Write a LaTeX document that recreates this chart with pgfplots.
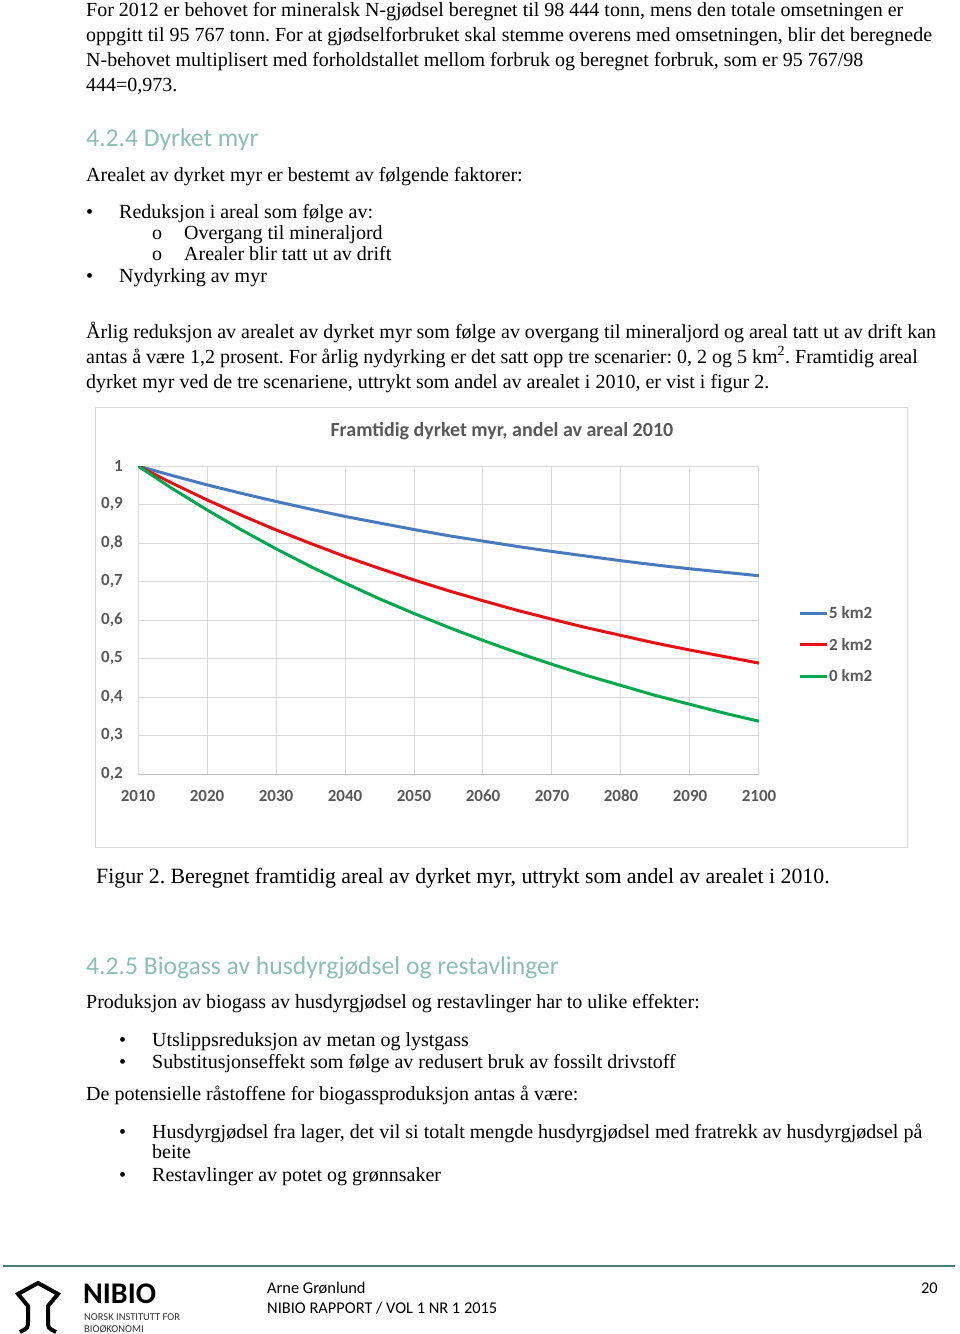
\documentclass[border=0pt]{standalone}
\usepackage{pgfplots}
\pgfplotsset{compat=1.18}
\usepackage{fontspec}
\setmainfont{Liberation Serif}
\newfontfamily\carlito{Carlito}
\definecolor{cblue}{RGB}{74,122,190}
\definecolor{cred}{RGB}{232,16,20}
\definecolor{cgreen}{RGB}{0,168,80}
\definecolor{labgray}{RGB}{89,89,89}
\definecolor{gridgray}{RGB}{217,217,217}
\definecolor{axisgray}{RGB}{191,191,191}
\definecolor{headteal}{RGB}{140,190,180}
\definecolor{footteal}{RGB}{78,127,115}
\newcommand\body{\fontsize{20}{24}\selectfont}
\newcommand\capf{\fontsize{21.8}{26}\selectfont}
\newcommand\head{\carlito\fontsize{25.6}{30}\selectfont\color{headteal}}
\newcommand\foot{\carlito\fontsize{16.4}{19}\selectfont}
\newcommand\chartf{\carlito\bfseries\fontsize{17}{20}\selectfont\color{labgray}}
\frenchspacing
\begin{document}
\begin{tikzpicture}
\useasboundingbox (0pt,0pt) rectangle (960pt,-1334pt);
\fill[white] (0pt,0pt) rectangle (960pt,-1334pt);
\begin{scope}[x=1pt,y=-1pt,every node/.style={inner sep=0pt, anchor=base west}]
\node[font=\body] at (86,16) {For 2012 er behovet for mineralsk N-gjødsel beregnet til 98 444 tonn, mens den totale omsetningen er};
\node[font=\body] at (86,41) {oppgitt til 95 767 tonn. For at gjødselforbruket skal stemme overens med omsetningen, blir det beregnede};
\node[font=\body] at (86,66) {N-behovet multiplisert med forholdstallet mellom forbruk og beregnet forbruk, som er 95 767/98};
\node[font=\body] at (86,91) {444=0,973.};
\node[font=\head] at (86,146) {4.2.4 Dyrket myr};
\node[font=\body] at (86,181) {Arealet av dyrket myr er bestemt av følgende faktorer:};
\node[font=\body] at (86,218) {•};
\node[font=\body] at (119,218) {Reduksjon i areal som følge av:};
\node[font=\body] at (152,239) {o};
\node[font=\body] at (184,239) {Overgang til mineraljord};
\node[font=\body] at (152,260) {o};
\node[font=\body] at (184,260) {Arealer blir tatt ut av drift};
\node[font=\body] at (86,282) {•};
\node[font=\body] at (119,282) {Nydyrking av myr};
\node[font=\body] at (86,338) {Årlig reduksjon av arealet av dyrket myr som følge av overgang til mineraljord og areal tatt ut av drift kan};
\node[font=\body] at (86,363) {antas å være 1,2 prosent. For årlig nydyrking er det satt opp tre scenarier: 0, 2 og 5 km\textsuperscript{2}. Framtidig areal};
\node[font=\body] at (86,388) {dyrket myr ved de tre scenariene, uttrykt som andel av arealet i 2010, er vist i figur 2.};
\draw[gridgray, line width=1pt] (95.5,407.5) rectangle (907.5,847.5);
\node[font=\capf] at (96,883) {Figur 2. Beregnet framtidig areal av dyrket myr, uttrykt som andel av arealet i 2010.};
\node[font=\head] at (86,974) {4.2.5 Biogass av husdyrgjødsel og restavlinger};
\node[font=\body] at (86,1008) {Produksjon av biogass av husdyrgjødsel og restavlinger har to ulike effekter:};
\node[font=\body] at (119,1046) {•};
\node[font=\body] at (152,1046) {Utslippsreduksjon av metan og lystgass};
\node[font=\body] at (119,1068) {•};
\node[font=\body] at (152,1068) {Substitusjonseffekt som følge av redusert bruk av fossilt drivstoff};
\node[font=\body] at (86,1100) {De potensielle råstoffene for biogassproduksjon antas å være:};
\node[font=\body] at (119,1138) {•};
\node[font=\body] at (152,1138) {Husdyrgjødsel fra lager, det vil si totalt mengde husdyrgjødsel med fratrekk av husdyrgjødsel på};
\node[font=\body] at (152,1158) {beite};
\node[font=\body] at (119,1181) {•};
\node[font=\body] at (152,1181) {Restavlinger av potet og grønnsaker};
\draw[footteal, line width=2pt] (3,1266) -- (955,1266);
\draw[black, line width=4pt, line join=miter, line cap=butt] (28,1322) -- (28,1306) -- (18,1294) -- (38,1283) -- (58,1294) -- (48,1306) -- (48,1322);
\draw[black, line width=4pt] (28,1320) .. controls (28,1328) .. (20,1332);
\draw[black, line width=4pt] (48,1320) .. controls (48,1328) .. (56,1332);
\node[font=\carlito\bfseries\fontsize{30}{32}\selectfont] at (83,1303) {NIBIO};
\node[font=\carlito\fontsize{10.5}{12}\selectfont, text=black!80] at (84,1320) {NORSK INSTITUTT FOR};
\node[font=\carlito\fontsize{10.5}{12}\selectfont, text=black!80] at (84,1332) {BIOØKONOMI};
\node[font=\foot] at (267,1293) {Arne Grønlund};
\node[font=\foot] at (267,1313) {NIBIO RAPPORT / VOL 1 NR 1 2015};
\node[font=\foot, anchor=base east] at (938,1293) {20};
\end{scope}
\begin{axis}[
  at={(138pt,-774pt)}, anchor=south west,
  scale only axis, width=621pt, height=308pt,
  xmin=2010, xmax=2100, ymin=0.2, ymax=1,
  xtick={2010,2020,2030,2040,2050,2060,2070,2080,2090,2100},
  xticklabels={2010,2020,2030,2040,2050,2060,2070,2080,2090,2100},
  ytick={0.2,0.3,0.4,0.5,0.6,0.7,0.8,0.9,1},
  yticklabels={{0,2},{0,3},{0,4},{0,5},{0,6},{0,7},{0,8},{0,9},{1}},
  grid=major, major grid style={draw=gridgray, line width=1pt},
  axis line style={draw=gridgray, line width=1pt},
  x axis line style={draw=axisgray},
  axis x line*=bottom, axis y line*=left,
  major tick length=0pt, tick style={draw=none},
  yticklabel style={font=\chartf, inner sep=0pt, anchor=east, xshift=-15pt},
  xticklabel style={font=\chartf, inner sep=0pt, anchor=north, yshift=-16pt},
  every axis title shift=0pt,
  title={Framtidig dyrket myr, andel av areal 2010},
  title style={font=\carlito\bfseries\fontsize{20}{22}\selectfont\color{labgray}, at={(0.586,1.1136)}, anchor=center, yshift=0pt, inner sep=0pt},
  legend style={draw=none, fill=none, at={(1.058,0.419)}, anchor=west, font=\chartf, row sep=16pt, nodes={inner sep=1pt}},
  legend cell align=left,
  legend image code/.code={\draw[#1] (0pt,0pt) -- (27pt,0pt);},
  every axis plot/.append style={line width=3pt, line join=round},
]
\addplot[cblue] coordinates {(2010,1) (2015,0.975) (2020,0.951) (2025,0.929) (2030,0.908) (2035,0.888) (2040,0.869) (2045,0.852) (2050,0.835) (2055,0.819) (2060,0.805) (2065,0.791) (2070,0.778) (2075,0.766) (2080,0.754) (2085,0.743) (2090,0.733) (2095,0.724) (2100,0.715)};
\addlegendentry{5 km2}
\addplot[cred] coordinates {(2010,1) (2015,0.955) (2020,0.912) (2025,0.872) (2030,0.834) (2035,0.799) (2040,0.765) (2045,0.734) (2050,0.704) (2055,0.676) (2060,0.650) (2065,0.625) (2070,0.602) (2075,0.580) (2080,0.560) (2085,0.540) (2090,0.522) (2095,0.505) (2100,0.488)};
\addlegendentry{2 km2}
\addplot[cgreen] coordinates {(2010,1) (2015,0.941) (2020,0.886) (2025,0.834) (2030,0.785) (2035,0.739) (2040,0.696) (2045,0.655) (2050,0.617) (2055,0.581) (2060,0.547) (2065,0.515) (2070,0.485) (2075,0.456) (2080,0.430) (2085,0.404) (2090,0.381) (2095,0.358) (2100,0.337)};
\addlegendentry{0 km2}
\end{axis}
\end{tikzpicture}
\end{document}
